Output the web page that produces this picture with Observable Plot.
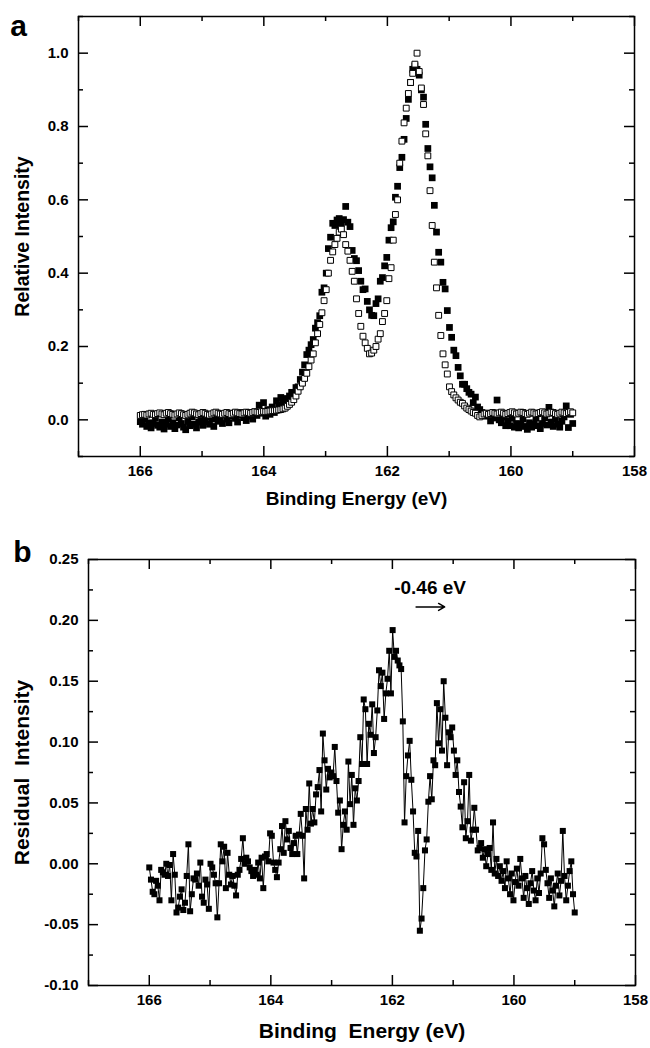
<!DOCTYPE html>
<html><head><meta charset="utf-8">
<script src="https://cdn.jsdelivr.net/npm/d3@7"></script>
<script src="https://cdn.jsdelivr.net/npm/@observablehq/plot@0.6"></script>
<style>
body{margin:0;background:#fff;}
#chart{width:650px;height:1048px;position:relative;background:#fff;}
#chart svg{display:block;}
</style></head><body><div id="chart"></div>
<script>
// ---------- Panel a: energy grid and intensities ----------
const gridAStart = 166.0, gridAStep = 0.035;   // binding energy grid (eV), 201 points
const openA = [
0.012,0.014,0.015,0.013,0.016,0.018,0.015,0.014,0.017,0.019,
0.016,0.014,0.018,0.020,0.017,0.015,0.013,0.016,0.019,0.017,
0.014,0.012,0.015,0.018,0.021,0.019,0.016,0.014,0.017,0.020,
0.018,0.015,0.013,0.016,0.019,0.021,0.018,0.016,0.015,0.018,
0.020,0.017,0.015,0.018,0.021,0.019,0.017,0.016,0.019,0.021,
0.020,0.018,0.020,0.022,0.021,0.020,0.022,0.023,0.022,0.023,
0.024,0.025,0.025,0.026,0.027,0.028,0.030,0.032,0.037,0.042,
0.048,0.055,0.065,0.078,0.090,0.100,0.113,0.127,0.145,0.163,
0.180,0.210,0.235,0.260,0.292,0.325,0.355,0.400,0.435,0.458,
0.478,0.495,0.512,0.520,0.505,0.478,0.460,0.435,0.405,0.378,
0.330,0.290,0.255,0.228,0.210,0.195,0.180,0.182,0.190,0.200,
0.220,0.235,0.268,0.290,0.325,0.385,0.415,0.490,0.560,0.600,
0.700,0.760,0.810,0.850,0.890,0.920,0.945,0.970,1.000,0.950,
0.905,0.860,0.780,0.720,0.625,0.530,0.430,0.360,0.285,0.230,
0.180,0.150,0.125,0.090,0.077,0.068,0.060,0.054,0.048,0.045,
0.038,0.032,0.028,0.024,0.020,0.018,0.012,0.008,0.012,0.016,
0.018,0.015,0.017,0.020,0.018,0.016,0.019,0.021,0.018,0.015,
0.017,0.020,0.022,0.019,0.016,0.018,0.021,0.020,0.017,0.015,
0.018,0.021,0.019,0.016,0.017,0.020,0.022,0.019,0.016,0.018,
0.021,0.020,0.017,0.015,0.018,0.021,0.019,0.017,0.020,0.022,
0.019];
const filledA = [
-0.005,-0.012,0.002,-0.018,-0.008,-0.022,-0.010,0.004,-0.015,-0.020,
-0.006,-0.025,-0.012,0.003,-0.018,-0.008,-0.024,-0.014,0.006,-0.010,
-0.020,-0.027,-0.004,-0.016,0.008,-0.012,-0.022,-0.006,0.010,-0.015,
-0.005,0.008,-0.012,0.002,-0.018,0.012,-0.004,0.005,-0.010,0.015,
0.002,-0.008,0.010,0.018,0.004,-0.006,0.012,0.020,0.006,-0.002,
0.010,0.016,0.002,0.022,0.012,0.040,0.018,0.047,0.010,0.028,
0.015,0.035,0.020,0.052,0.040,0.061,0.045,0.058,0.057,0.065,
0.075,0.070,0.088,0.090,0.110,0.130,0.150,0.178,0.190,0.205,
0.219,0.250,0.265,0.284,0.348,0.360,0.400,0.467,0.498,0.536,
0.530,0.545,0.549,0.535,0.546,0.582,0.539,0.527,0.462,0.440,
0.434,0.407,0.378,0.355,0.357,0.323,0.300,0.285,0.284,0.317,
0.330,0.378,0.388,0.420,0.443,0.490,0.524,0.540,0.607,0.637,
0.688,0.716,0.765,0.822,0.874,0.920,0.956,0.965,0.956,0.940,
0.900,0.880,0.806,0.740,0.690,0.660,0.585,0.512,0.457,0.430,
0.375,0.357,0.298,0.252,0.225,0.190,0.175,0.143,0.120,0.097,
0.097,0.085,0.075,0.070,0.047,0.062,0.035,0.028,0.020,0.015,
0.010,0.018,-0.003,0.005,0.015,0.054,0.000,-0.008,0.008,-0.016,
-0.003,-0.016,0.004,-0.020,-0.010,-0.022,-0.012,0.002,-0.018,-0.026,
-0.008,-0.020,-0.012,0.004,-0.016,-0.024,-0.010,0.006,-0.014,0.034,
-0.006,-0.018,0.002,-0.012,-0.020,-0.004,0.008,0.038,-0.021,0.015,
-0.010];

// ---------- Panel b: residual ----------
const gridBStart = 166.0, gridBStep = 0.028;   // 251 points
const residB = [
-0.003,-0.013,-0.023,-0.025,-0.014,-0.018,-0.030,-0.005,-0.007,-0.009,
0.000,-0.010,-0.001,-0.030,0.008,-0.009,-0.040,-0.036,-0.027,-0.021,
-0.038,-0.032,-0.010,0.016,-0.039,-0.025,-0.012,-0.013,-0.008,-0.018,
0.001,-0.027,-0.032,-0.013,-0.017,-0.037,0.000,-0.003,-0.009,-0.016,
-0.044,-0.016,0.016,0.002,0.014,-0.020,0.009,-0.009,-0.017,-0.010,
-0.018,-0.026,-0.009,-0.005,0.004,0.021,0.000,0.005,0.002,-0.003,
-0.006,-0.010,-0.005,-0.009,0.001,-0.012,0.005,-0.020,0.006,0.008,
0.002,0.025,0.023,0.001,-0.005,-0.011,0.001,0.012,0.031,0.009,
0.035,0.020,0.027,0.013,0.008,0.017,0.023,0.008,0.024,0.041,
0.023,-0.012,0.045,0.028,0.066,0.033,0.045,0.034,0.057,0.063,
0.077,0.043,0.107,0.085,0.061,0.078,0.071,0.075,0.072,0.096,
0.068,0.042,0.052,0.012,0.032,0.043,0.028,0.084,0.049,0.073,
0.032,0.062,0.052,0.068,0.104,0.082,0.135,0.127,0.082,0.115,
0.106,0.131,0.091,0.104,0.126,0.159,0.146,0.157,0.119,0.140,
0.152,0.175,0.140,0.192,0.170,0.175,0.167,0.163,0.160,0.117,
0.034,0.072,0.089,0.101,0.069,0.043,0.009,0.006,0.027,-0.055,
-0.045,-0.020,0.011,0.020,0.051,0.072,0.053,0.085,0.081,0.132,
0.099,0.127,0.093,0.150,0.120,0.081,0.108,0.104,0.112,0.093,
0.073,0.085,0.059,0.047,0.030,0.067,0.021,0.035,0.073,0.019,
0.028,0.046,0.028,0.011,0.013,0.017,0.005,0.012,-0.002,0.008,
0.013,-0.005,0.034,-0.008,0.004,-0.010,-0.002,-0.014,-0.006,-0.020,
0.002,-0.012,-0.025,-0.008,-0.030,-0.015,-0.004,-0.018,0.004,-0.012,
-0.028,-0.010,-0.020,-0.033,-0.016,-0.006,-0.022,-0.030,-0.012,-0.024,
-0.008,0.021,0.016,-0.005,-0.016,-0.028,-0.012,-0.022,-0.035,-0.018,
-0.008,-0.026,-0.014,0.027,-0.010,-0.030,-0.018,-0.006,0.002,-0.025,
-0.040];

// ---------- axes / ticks / labels ----------
const xDomain = [167, 158];
const xTicksMajor = [166, 164, 162, 160, 158];
const xTicksMinor = [167, 165, 163, 161, 159];
const yDomainA = [-0.1, 1.1];
const yTicksA = [0.0, 0.2, 0.4, 0.6, 0.8, 1.0];
const yTicksAMinor = [-0.1, 0.1, 0.3, 0.5, 0.7, 0.9, 1.1];
const yDomainB = [-0.10, 0.25];
const yTicksB = [-0.10, -0.05, 0.00, 0.05, 0.10, 0.15, 0.20, 0.25];
const yTicksBMinor = [-0.075, -0.025, 0.025, 0.075, 0.125, 0.175, 0.225];
const panelLetters = ["a", "b"];
const xTitleA = "Binding Energy (eV)";
const yTitleA = "Relative Intensity";
const xTitleB = "Binding\u00a0 Energy (eV)";
const yTitleB = "Residual\u00a0 Intensity";
const shiftNote = [{label: "-0.46 eV", x: 161.38, y: 0.2265, from: 161.61, to: 161.14, ay: 0.211}];

const dataA = openA.map((v, i) => ({E: +(gridAStart - i * gridAStep).toFixed(3), open: v, filled: filledA[i]}));
const dataB = residB.map((v, i) => ({E: +(gridBStart - i * gridBStep).toFixed(3), r: v}));

const FONT = "'Liberation Sans', Arial, Helvetica, sans-serif";

function frameTicks(fw, fh, xMaj, xMin, yMaj, yMin) {
  const L = 10, l = 5, sw = 1.5;
  return [
    Plot.tickX(xMaj, {x: d => d, insetTop: fh - L, strokeWidth: sw}),
    Plot.tickX(xMaj, {x: d => d, insetBottom: fh - L, strokeWidth: sw}),
    Plot.tickX(xMin, {x: d => d, insetTop: fh - l, strokeWidth: sw}),
    Plot.tickX(xMin, {x: d => d, insetBottom: fh - l, strokeWidth: sw}),
    Plot.tickY(yMaj, {y: d => d, insetRight: fw - L, strokeWidth: sw}),
    Plot.tickY(yMaj, {y: d => d, insetLeft: fw - L, strokeWidth: sw}),
    Plot.tickY(yMin, {y: d => d, insetRight: fw - l, strokeWidth: sw}),
    Plot.tickY(yMin, {y: d => d, insetLeft: fw - l, strokeWidth: sw}),
    Plot.frame({strokeWidth: 1.5})
  ];
}

const T = {textAnchor: "middle", lineAnchor: "middle", fontWeight: "bold"};

// Panel a
const A = {width: 650, height: 520, mt: 16, mr: 16, mb: 64, ml: 78};
const fwA = A.width - A.ml - A.mr, fhA = A.height - A.mt - A.mb;
const plotA = Plot.plot({
  width: A.width, height: A.height,
  marginTop: A.mt, marginRight: A.mr, marginBottom: A.mb, marginLeft: A.ml,
  style: {fontFamily: FONT, background: "white", color: "black", overflow: "visible"},
  x: {domain: xDomain},
  y: {domain: yDomainA},
  marks: [
    ...frameTicks(fwA, fhA, xTicksMajor, xTicksMinor, yTicksA, yTicksAMinor),
    Plot.axisX({ticks: xTicksMajor, anchor: "bottom", tickSize: 0, tickPadding: 9,
      tickFormat: d => String(d), fontSize: 15, fontWeight: "bold", label: null}),
    Plot.axisY({ticks: yTicksA, anchor: "left", tickSize: 0, tickPadding: 10,
      tickFormat: d => d.toFixed(1), fontSize: 15, fontWeight: "bold", label: null}),
    Plot.dot(dataA, {x: "E", y: "filled", symbol: "square", r: 3.8, fill: "black", stroke: "none"}),
    Plot.dot(dataA, {x: "E", y: "open", symbol: "square", r: 3.3, fill: "white", stroke: "black", strokeWidth: 1}),
    Plot.text([xTitleA], {...T, text: d => d, frameAnchor: "bottom", dy: 42, fontSize: 19}),
    Plot.text([yTitleA], {...T, text: d => d, frameAnchor: "left", dx: -56, rotate: -90, fontSize: 19.5}),
    Plot.text([panelLetters[0]], {...T, text: d => d, frameAnchor: "top-left", dx: -60, dy: 9.5, fontSize: 30})
  ]
});

// Panel b
const B = {width: 650, height: 528, mt: 39, mr: 15, mb: 63, ml: 88};
const fwB = B.width - B.ml - B.mr, fhB = B.height - B.mt - B.mb;
const plotB = Plot.plot({
  width: B.width, height: B.height,
  marginTop: B.mt, marginRight: B.mr, marginBottom: B.mb, marginLeft: B.ml,
  style: {fontFamily: FONT, background: "white", color: "black", overflow: "visible"},
  x: {domain: xDomain},
  y: {domain: yDomainB},
  marks: [
    ...frameTicks(fwB, fhB, xTicksMajor, xTicksMinor, yTicksB, yTicksBMinor),
    Plot.axisX({ticks: xTicksMajor, anchor: "bottom", tickSize: 0, tickPadding: 9,
      tickFormat: d => String(d), fontSize: 15, fontWeight: "bold", label: null}),
    Plot.axisY({ticks: yTicksB, anchor: "left", tickSize: 0, tickPadding: 10,
      tickFormat: d => d.toFixed(2), fontSize: 15, fontWeight: "bold", label: null}),
    Plot.line(dataB, {x: "E", y: "r", stroke: "black", strokeWidth: 1}),
    Plot.dot(dataB, {x: "E", y: "r", symbol: "square", r: 3.4, fill: "black", stroke: "none"}),
    Plot.text(shiftNote, {...T, x: "x", y: "y", text: "label", fontSize: 19}),
    Plot.arrow(shiftNote, {x1: "from", x2: "to", y1: "ay", y2: "ay", stroke: "black", strokeWidth: 1.5, headLength: 7}),
    Plot.text([xTitleB], {...T, text: d => d, frameAnchor: "bottom", dy: 46, fontSize: 21}),
    Plot.text([yTitleB], {...T, text: d => d, frameAnchor: "left", dx: -66, rotate: -90, fontSize: 21}),
    Plot.text([panelLetters[1]], {...T, text: d => d, frameAnchor: "top-left", dx: -66, dy: -7, fontSize: 30})
  ]
});

const host = document.getElementById("chart");
host.appendChild(plotA);
host.appendChild(plotB);
</script>
</body></html>
